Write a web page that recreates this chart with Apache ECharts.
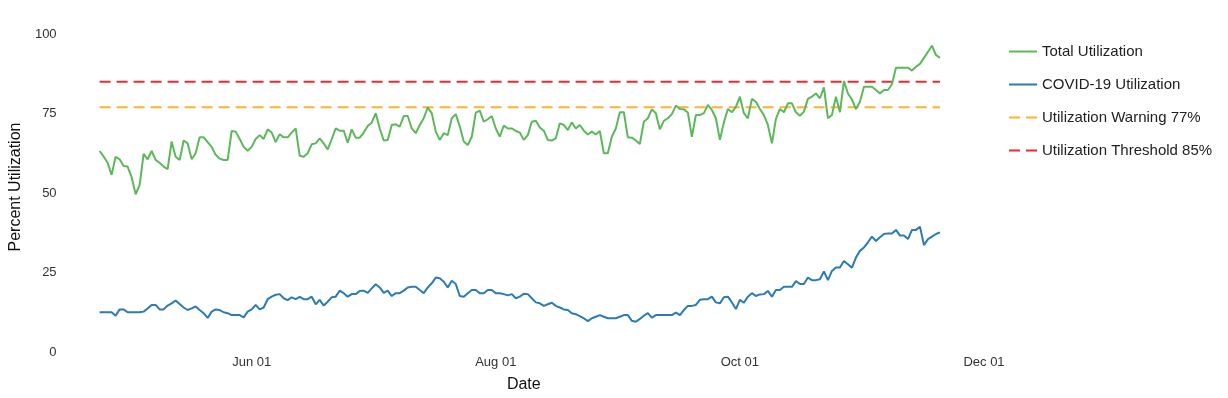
<!DOCTYPE html>
<html lang="en">
<head>
<meta charset="UTF-8">
<title>Percent Utilization</title>
<script src="https://cdn.jsdelivr.net/npm/echarts@6/dist/echarts.min.js"></script>
<style>html, body { margin: 0; padding: 0; background: #fff; }</style>
</head>
<body>
<div id="main" style="width:1228px; height:398px;"></div>
<script>
// daily values, first day = startDate
var startDate = '2020-04-24';
var totalUtil = [
  63.2, 61.5, 59.5, 55.7, 61.4, 60.6, 58.5, 58.3, 55.0, 49.6,
  52.5, 62.3, 60.6, 63.2, 60.4, 59.5, 58.3, 57.5, 66.2, 61.4,
  60.4, 66.5, 65.6, 60.6, 62.5, 67.5, 67.5, 66.0, 64.5, 62.0,
  60.8, 60.4, 60.4, 69.5, 69.3, 67.0, 64.5, 63.3, 64.5, 67.0,
  68.2, 67.0, 70.0, 69.0, 66.0, 68.5, 67.5, 67.5, 69.0, 70.3,
  61.7, 61.4, 62.5, 65.3, 65.6, 67.2, 65.6, 63.7, 66.9, 70.3,
  69.6, 69.6, 65.8, 70.0, 67.4, 67.4, 69.0, 71.1, 72.1, 75.1,
  70.3, 66.5, 66.7, 71.4, 71.6, 70.9, 74.2, 74.2, 70.3, 68.8,
  71.4, 73.5, 76.9, 75.1, 69.3, 66.7, 68.8, 68.2, 73.5, 74.8,
  70.9, 66.2, 65.1, 67.7, 75.3, 75.9, 72.4, 73.2, 74.2, 70.3,
  67.7, 71.2, 70.3, 70.3, 69.5, 69.0, 66.7, 68.2, 72.4, 72.7,
  70.6, 69.6, 66.7, 66.5, 67.2, 71.9, 71.4, 69.8, 72.2, 70.3,
  71.4, 69.6, 68.4, 69.3, 68.4, 69.5, 62.5, 62.5, 67.7, 70.3,
  75.4, 75.4, 67.5, 67.4, 66.5, 65.4, 72.4, 73.5, 76.3, 75.1,
  70.0, 72.7, 73.5, 74.8, 77.5, 76.4, 76.3, 75.3, 67.7, 74.5,
  74.5, 75.1, 77.7, 76.1, 73.5, 66.7, 72.2, 76.4, 75.4, 77.1,
  80.3, 75.1, 73.5, 79.6, 78.7, 76.4, 74.5, 71.4, 65.6, 73.3,
  76.4, 75.4, 78.2, 78.2, 75.4, 74.3, 75.6, 79.6, 80.3, 81.3,
  79.8, 83.2, 73.5, 74.5, 80.3, 75.4, 85.2, 81.3, 79.4, 76.4,
  78.7, 83.4, 83.4, 83.4, 82.4, 81.3, 82.4, 82.4, 84.2, 89.4,
  89.4, 89.4, 89.4, 88.5, 89.7, 90.6, 92.5, 94.4, 96.3, 93.4,
  92.5
];
var covidUtil = [
  12.5, 12.5, 12.5, 12.5, 11.4, 13.4, 13.4, 12.5, 12.5, 12.5,
  12.5, 12.7, 13.7, 14.8, 14.8, 13.4, 13.4, 14.6, 15.3, 16.2,
  15.1, 14.0, 13.2, 13.7, 14.3, 13.2, 12.2, 10.7, 12.7, 13.4,
  13.2, 12.5, 12.2, 11.6, 11.6, 11.6, 10.9, 12.7, 13.4, 14.8,
  13.4, 14.0, 16.6, 17.4, 18.0, 18.2, 16.9, 16.3, 17.2, 16.6,
  17.3, 16.6, 16.6, 17.4, 15.0, 16.4, 14.6, 15.8, 17.2, 17.4,
  19.3, 18.5, 17.4, 18.2, 18.2, 19.2, 19.3, 18.6, 20.0, 21.3,
  20.3, 18.6, 19.3, 17.6, 18.5, 18.5, 19.3, 20.3, 20.5, 20.5,
  19.5, 18.5, 20.3, 21.6, 23.4, 23.2, 22.1, 20.3, 22.4, 21.4,
  17.6, 17.4, 18.5, 19.5, 19.5, 18.5, 18.5, 19.5, 19.5, 18.5,
  18.5, 18.2, 17.8, 18.2, 16.9, 17.4, 18.3, 18.2, 16.9, 15.6,
  15.3, 14.5, 15.0, 15.5, 14.5, 14.0, 13.4, 13.2, 12.2, 11.9,
  11.3, 10.6, 9.7, 10.6, 11.1, 11.6, 11.1, 10.6, 10.6, 10.6,
  11.1, 11.6, 11.6, 9.8, 9.5, 10.4, 11.4, 12.2, 10.8, 11.6,
  11.6, 11.6, 11.6, 11.6, 12.4, 11.6, 13.2, 14.5, 14.5, 14.8,
  16.4, 16.6, 16.6, 17.4, 15.6, 15.3, 17.2, 17.4, 15.6, 13.5,
  16.4, 15.5, 17.4, 18.5, 17.6, 18.1, 18.2, 19.2, 17.4, 19.5,
  19.5, 20.5, 20.5, 20.5, 22.3, 21.4, 21.4, 23.4, 22.6, 22.6,
  22.9, 25.3, 22.6, 25.5, 26.6, 26.6, 28.6, 27.6, 26.5, 29.7,
  31.8, 32.9, 34.5, 36.3, 34.9, 36.1, 37.1, 37.3, 37.3, 38.4,
  36.6, 36.6, 35.5, 38.4, 38.4, 39.4, 33.6, 35.5, 36.3, 37.1,
  37.6
];
var warningLevel = 77;
var thresholdLevel = 85;
var tickDates = ['2020-06-01', '2020-08-01', '2020-10-01', '2020-12-01'];
var tickLabels = ['Jun 01', 'Aug 01', 'Oct 01', 'Dec 01'];

// day number counted from startDate
function dayNo(s) {
  var p = s.split('-'), q = startDate.split('-');
  return Math.round((Date.UTC(+p[0], +p[1] - 1, +p[2]) - Date.UTC(+q[0], +q[1] - 1, +q[2])) / 86400000);
}

var tickValues = tickDates.map(dayNo);
var totalData = totalUtil.map(function (v, i) { return [i, v]; });
var covidData = covidUtil.map(function (v, i) { return [i, v]; });
var lastDay = totalUtil.length - 1;

var font = '"Liberation Sans", Arial, sans-serif';
var myChart = echarts.init(document.getElementById('main'));
myChart.setOption({
  animation: false,
  backgroundColor: '#fff',
  textStyle: { fontFamily: font },
  grid: { left: 55, right: 240, top: 34, bottom: 46 },
  legend: {
    orient: 'vertical',
    left: 1003,
    top: 39,
    itemWidth: 28,
    itemHeight: 14,
    itemGap: 18,
    itemStyle: { opacity: 0 },
    data: ['Total Utilization', 'COVID-19 Utilization', 'Utilization Warning 77%', 'Utilization Threshold 85%'],
    textStyle: { fontFamily: font, fontSize: 15, color: '#222' }
  },
  xAxis: {
    type: 'value',
    min: dayNo('2020-04-14'),
    max: dayNo('2020-12-02'),
    name: 'Date',
    nameLocation: 'middle',
    nameGap: 25,
    nameTextStyle: { fontFamily: font, fontSize: 16, color: '#111' },
    axisLine: { show: false },
    axisTick: { show: false },
    splitLine: { show: false },
    axisLabel: {
      customValues: tickValues,
      margin: 4,
      fontSize: 13,
      color: '#333',
      fontFamily: font,
      formatter: function (val) {
        var i = tickValues.indexOf(val);
        return i >= 0 ? tickLabels[i] : '';
      }
    }
  },
  yAxis: {
    type: 'value',
    min: 0,
    max: 100,
    interval: 25,
    name: 'Percent Utilization',
    nameLocation: 'middle',
    nameGap: 34,
    nameTextStyle: { fontFamily: font, fontSize: 16, color: '#111', padding: [0, 0, 0, 12] },
    axisLine: { show: false },
    axisTick: { show: false },
    splitLine: { show: false },
    axisLabel: { margin: 3, fontSize: 13, color: '#333', fontFamily: font }
  },
  series: [{
    name: 'Total Utilization',
    type: 'line',
    symbol: 'none',
    z: 3,
    itemStyle: { color: '#5cb85a' },
    lineStyle: { color: '#5cb85a', width: 2 },
    data: totalData
  }, {
    name: 'COVID-19 Utilization',
    type: 'line',
    symbol: 'none',
    z: 3,
    itemStyle: { color: '#2b7bb4' },
    lineStyle: { color: '#2b7bb4', width: 2 },
    data: covidData
  }, {
    name: 'Utilization Warning 77%',
    type: 'line',
    symbol: 'none',
    z: 2,
    itemStyle: { color: '#fdb231' },
    lineStyle: { color: '#fdb231', width: 2, type: [11, 6] },
    data: [[0, warningLevel], [lastDay, warningLevel]]
  }, {
    name: 'Utilization Threshold 85%',
    type: 'line',
    symbol: 'none',
    z: 2,
    itemStyle: { color: '#f2282a' },
    lineStyle: { color: '#f2282a', width: 2, type: [11, 6] },
    data: [[0, thresholdLevel], [lastDay, thresholdLevel]]
  }]
});
</script>
</body>
</html>
